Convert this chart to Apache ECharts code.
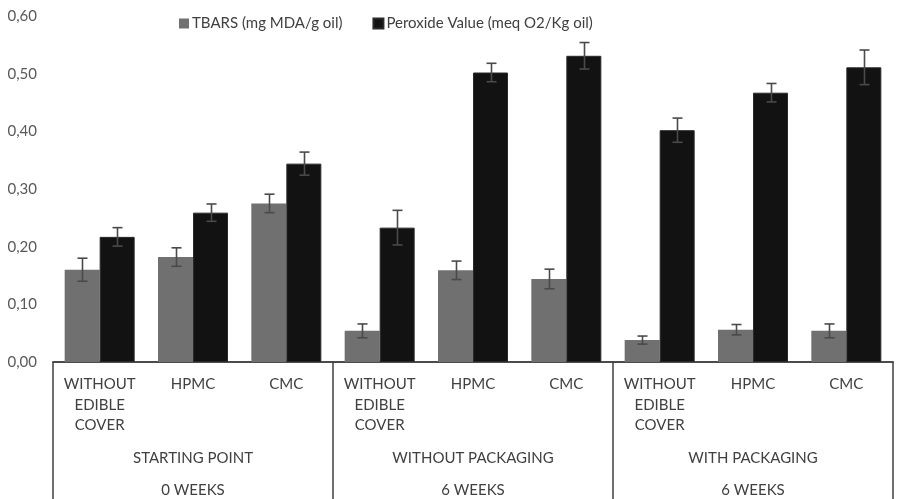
<!DOCTYPE html>
<html>
<head>
<meta charset="utf-8">
<script src="https://cdn.jsdelivr.net/npm/echarts@6/dist/echarts.min.js"></script>
<style>html,body{margin:0;padding:0;background:#fff}#c{width:903px;height:499px}</style>
</head>
<body>
<div id="c"></div>
<script>
var categories = ["WITHOUT\nEDIBLE\nCOVER","HPMC","CMC","WITHOUT\nEDIBLE\nCOVER","HPMC","CMC","WITHOUT\nEDIBLE\nCOVER","HPMC","CMC"];
var groups = ["STARTING POINT\n0 WEEKS","WITHOUT PACKAGING\n6 WEEKS","WITH PACKAGING\n6 WEEKS"];
var tbars = [0.160,0.182,0.275,0.054,0.159,0.144,0.038,0.056,0.054];
var tbarsErr = [0.020,0.016,0.016,0.012,0.016,0.017,0.007,0.009,0.012];
var pv = [0.217,0.259,0.344,0.233,0.502,0.531,0.402,0.467,0.511];
var pvErr = [0.016,0.015,0.020,0.030,0.016,0.023,0.021,0.016,0.030];
var yTicks = [0,0.1,0.2,0.3,0.4,0.5,0.6];
var seriesNames = ["TBARS (mg MDA/g oil)","Peroxide Value (meq O2/Kg oil)"];

var FONT = "Lato";
var TXT = "#404040";

function errRender(offsetFrac){
  return function(params, api){
    var i = api.value(0), v = api.value(1), e = api.value(2);
    var bw = api.size([1,0])[0];
    var top = api.coord([i, v+e]);
    var bot = api.coord([i, v-e]);
    var x = Math.round(top[0] + offsetFrac*bw) + 0.5;
    var cap = 5;
    var st = {stroke:"#4a4a4a", lineWidth:1.6};
    return {type:"group", children:[
      {type:"line", shape:{x1:x,y1:top[1],x2:x,y2:bot[1]}, style:st},
      {type:"line", shape:{x1:x-cap,y1:top[1],x2:x+cap,y2:top[1]}, style:st},
      {type:"line", shape:{x1:x-cap,y1:bot[1],x2:x+cap,y2:bot[1]}, style:st}
    ]};
  };
}
function errData(vals, errs){ return vals.map(function(v,i){ return [i, v, errs[i]]; }); }

var chart = echarts.init(document.getElementById("c"), null, {renderer:"canvas"});
chart.setOption({
  animation:false,
  textStyle:{fontFamily:FONT},
  grid:{left:53, right:10, top:16, bottom:137, containLabel:false, outerBoundsMode:"none"},
  legend:{
    data:[{name:seriesNames[0],icon:"rect"},{name:seriesNames[1],icon:"rect"}],
    top:11, left:174, itemWidth:10, itemHeight:10, itemGap:30,
    textStyle:{fontFamily:FONT, fontSize:15, color:TXT, padding:[0,0,0,-2]}
  },
  xAxis:[
    {type:"category", data:categories, position:"bottom",
     axisLine:{show:true, lineStyle:{color:"#404040", width:1.5}},
     axisTick:{show:false},
     axisLabel:{interval:0, margin:12, fontFamily:FONT, fontSize:15, color:TXT, lineHeight:20.5, align:"center"}
    },
    {type:"category", data:groups, position:"bottom", gridIndex:0,
     axisLine:{show:true, lineStyle:{color:"#404040", width:1.5}},
     axisTick:{show:true, length:140, lineStyle:{color:"#404040", width:1.5}},
     axisLabel:{interval:0, margin:80, fontFamily:FONT, fontSize:15, color:TXT, lineHeight:32}
    }
  ],
  yAxis:{type:"value", min:yTicks[0], max:yTicks[yTicks.length-1], interval:0.1,
    axisLine:{show:false}, axisTick:{show:false}, splitLine:{show:false},
    axisLabel:{margin:16, fontFamily:FONT, fontSize:15, color:"#595959",
      formatter:function(v){ return v.toFixed(2).replace(".", ","); }}
  },
  series:[
    {name:seriesNames[0], type:"bar", data:tbars, barGap:"0%", barCategoryGap:"25%",
     itemStyle:{color:"#707070"}},
    {name:seriesNames[1], type:"bar", data:pv, barGap:"0%", barCategoryGap:"25%",
     itemStyle:{color:"#121212", borderColor:"#2a2a2a", borderWidth:1}},
    {type:"custom", name:"errT", renderItem:errRender(-0.1875), data:errData(tbars,tbarsErr),
     encode:{x:0, y:[1]}, z:10},
    {type:"custom", name:"errP", renderItem:errRender(0.1875), data:errData(pv,pvErr),
     encode:{x:0, y:[1]}, z:10}
  ]
});
</script>
</body>
</html>
